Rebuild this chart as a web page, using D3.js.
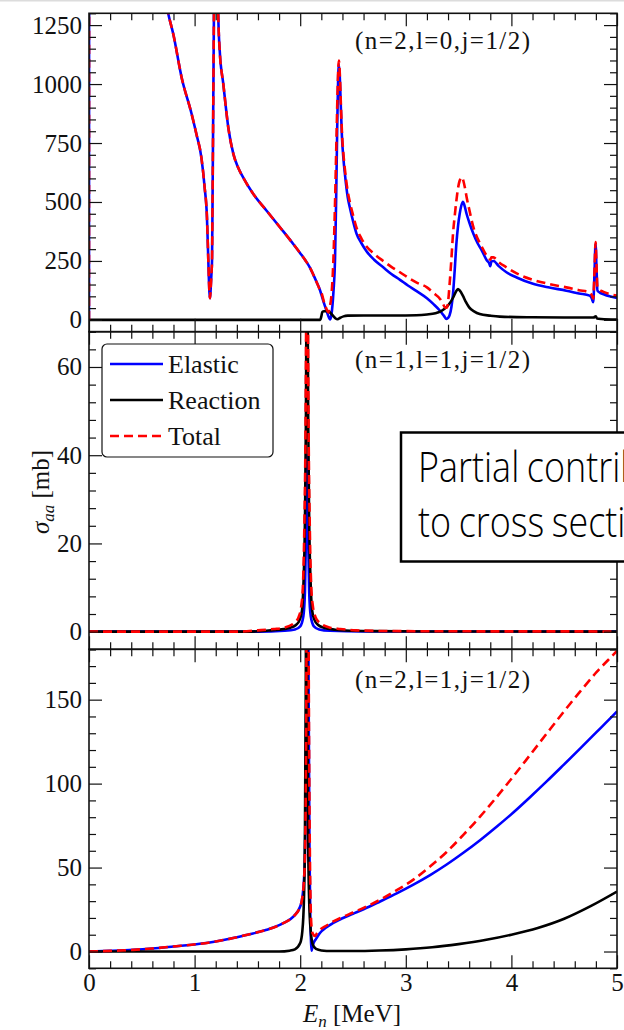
<!DOCTYPE html>
<html>
<head>
<meta charset="utf-8">
<script src="https://cdn.jsdelivr.net/npm/d3@7"></script>
<style>
  html, body { margin: 0; padding: 0; background: #fff; }
  svg { display: block; }
</style>
</head>
<body>
<svg id="chart" width="624" height="1030"></svg>
<script>
// ---------------------------------------------------------------
// Partial-wave cross sections sigma_aa [mb] versus neutron energy E_n [MeV]
// Each series is a list of [E_n, sigma] samples.
// ---------------------------------------------------------------

// x axis
const xTicks = [0, 1, 2, 3, 4, 5];
const xTickLabels = ["0", "1", "2", "3", "4", "5"];

// panel labels
const panelLabels = ["(n=2,l=0,j=1/2)", "(n=1,l=1,j=1/2)", "(n=2,l=1,j=1/2)"];
const seriesNames = ["Elastic", "Reaction", "Total"];

// y ticks per panel
const yTicksA = [0, 250, 500, 750, 1000, 1250];
const yTicksB = [0, 20, 40, 60];
const yTicksC = [0, 50, 100, 150];

// ---- (n=2,l=0,j=1/2) ----
const n2l0Low = [
  [0, 0], [0.004, 6000], [0.3, 3000], [0.6, 1700], [0.751, 1297], [0.798, 1212],
  [0.877, 1028], [0.972, 873], [1.017, 788], [1.064, 689], [1.095, 562], [1.117, 435],
  [1.13, 251], [1.14, 120], [1.146, 92], [1.152, 130], [1.16, 200], [1.165, 251],
  [1.17, 506], [1.177, 930], [1.183, 1297], [1.19, 1800], [1.2, 2500], [1.212, 1800],
  [1.224, 1297], [1.238, 1141], [1.272, 1000], [1.319, 816], [1.367, 704], [1.41, 648],
  [1.462, 602], [1.556, 534], [1.682, 463], [1.808, 393], [1.934, 322], [2.0, 283],
  [2.05, 252], [2.093, 221], [2.124, 192], [2.156, 160], [2.186, 128]
];
const n2l0Elastic = n2l0Low.concat([
  [2.219, 80], [2.25, 38], [2.27, 12], [2.282, 2], [2.295, 20], [2.315, 120], [2.33, 260],
  [2.34, 500], [2.35, 800], [2.36, 1040], [2.366, 1085], [2.375, 1030], [2.385, 900],
  [2.395, 780], [2.41, 680], [2.423, 620], [2.45, 520], [2.47, 477], [2.5, 420],
  [2.534, 365], [2.58, 325], [2.628, 291], [2.7, 255], [2.786, 223], [2.86, 196],
  [2.945, 170], [3.02, 146], [3.103, 122], [3.2, 92], [3.26, 68], [3.324, 39], [3.36, 18],
  [3.386, 4], [3.4, 8], [3.415, 20], [3.432, 55], [3.447, 110], [3.463, 210], [3.479, 322],
  [3.495, 400], [3.51, 449], [3.526, 485], [3.542, 501], [3.556, 485], [3.576, 449],
  [3.6, 415], [3.64, 365], [3.68, 325], [3.72, 294], [3.765, 254], [3.79, 240], [3.8, 228],
  [3.81, 248], [3.83, 250], [3.88, 228], [3.953, 202], [4.05, 180], [4.205, 153],
  [4.36, 137], [4.52, 124], [4.64, 112], [4.74, 103], [4.76, 92], [4.775, 75], [4.787, 200],
  [4.797, 322], [4.806, 220], [4.815, 124], [4.84, 115], [4.867, 110], [4.93, 100], [5.0, 93]
]);
const n2l0Reaction = [
  [0, 0], [2.19, 0], [2.2, 15], [2.21, 34], [2.225, 37], [2.265, 37], [2.285, 30], [2.31, 18],
  [2.335, 6], [2.355, 3], [2.375, 8], [2.41, 15], [2.45, 18], [2.6, 19], [2.9, 19], [3.1, 20],
  [3.2, 23], [3.28, 28], [3.33, 36], [3.37, 48], [3.4, 61], [3.45, 96], [3.475, 120],
  [3.494, 131], [3.51, 125], [3.54, 103], [3.57, 75], [3.6, 53], [3.65, 35], [3.7, 25],
  [3.8, 18], [3.89, 14], [4.2, 11], [4.5, 10], [4.78, 10], [4.79, 14], [4.8, 15], [4.81, 6],
  [4.85, 4], [5.0, 2]
];
const n2l0Total = n2l0Low.concat([
  [2.2, 117], [2.23, 68], [2.25, 45], [2.266, 32], [2.28, 55], [2.297, 110], [2.314, 251],
  [2.33, 500], [2.345, 800], [2.36, 1060], [2.366, 1100], [2.375, 1045], [2.385, 920],
  [2.395, 800], [2.41, 700], [2.423, 640], [2.45, 545], [2.47, 500], [2.5, 445],
  [2.534, 390], [2.58, 345], [2.628, 311], [2.7, 280], [2.786, 250], [2.86, 226],
  [2.945, 202], [3.02, 180], [3.103, 158], [3.2, 138], [3.26, 115], [3.324, 89], [3.35, 70],
  [3.371, 53], [3.39, 52], [3.4, 75], [3.415, 153], [3.432, 260], [3.447, 365], [3.463, 440],
  [3.479, 506], [3.495, 560], [3.51, 590], [3.532, 605], [3.545, 590], [3.56, 560],
  [3.576, 520], [3.6, 470], [3.64, 393], [3.68, 345], [3.72, 310], [3.765, 273], [3.79, 262],
  [3.8, 255], [3.81, 265], [3.83, 265], [3.88, 245], [3.953, 223], [4.05, 197], [4.205, 170],
  [4.36, 152], [4.52, 138], [4.64, 126], [4.74, 117], [4.76, 106], [4.775, 90], [4.787, 210],
  [4.797, 330], [4.806, 230], [4.815, 136], [4.84, 126], [4.867, 120], [4.93, 110], [5.0, 103]
]);

// ---- (n=1,l=1,j=1/2) ----
const n1l1Elastic = [
  [0, 0], [1.6, 0], [1.85, 0.2], [1.95, 0.5], [2.0, 1.2], [2.03, 3.5], [2.045, 9], [2.055, 22],
  [2.065, 40], [2.075, 22], [2.085, 9], [2.1, 3.5], [2.13, 1.2], [2.18, 0.5], [2.28, 0.2],
  [2.6, 0.05], [5, 0]
];
const n1l1Reaction = [
  [0, 0], [1.5, 0], [1.7, 0.25], [1.8, 0.45], [1.905, 0.9], [1.96, 1.5], [1.997, 2.8],
  [2.018, 5], [2.03, 10.3], [2.045, 25.5], [2.054, 48], [2.059, 75], [2.065, 110],
  [2.071, 75], [2.076, 48], [2.085, 25.5], [2.1, 10.3], [2.112, 5], [2.133, 2.8], [2.17, 1.5],
  [2.225, 0.9], [2.33, 0.45], [2.43, 0.25], [2.7, 0.12], [3.2, 0.05], [5, 0]
];
const n1l1Total = [
  [0, 0], [1.4, 0], [1.6, 0.3], [1.75, 0.6], [1.845, 0.9], [1.945, 2.0], [1.985, 3.3],
  [2.01, 5.8], [2.025, 10], [2.04, 25], [2.051, 48], [2.057, 75], [2.065, 130], [2.073, 75],
  [2.079, 48], [2.09, 25], [2.105, 10], [2.12, 5.8], [2.145, 3.3], [2.185, 2.0], [2.285, 0.9],
  [2.38, 0.6], [2.53, 0.3], [2.8, 0.15], [3.5, 0.08], [5, 0.05]
];

// ---- (n=2,l=1,j=1/2) ----
const n2l1Low = [
  [0, 0], [0.2, 0.4], [0.42, 1], [0.6, 1.8], [0.8, 3], [1.05, 4.6], [1.2, 6], [1.366, 8],
  [1.5, 10], [1.682, 12.9], [1.84, 16.9], [1.935, 20.8], [2.0, 26.8], [2.02, 32], [2.035, 42],
  [2.045, 56.6], [2.052, 90], [2.058, 150], [2.064, 300]
];
const n2l1Elastic = n2l1Low.concat([
  [2.072, 300], [2.08, 150], [2.088, 60], [2.096, 20], [2.103, 5], [2.108, 0.5], [2.116, 3],
  [2.13, 5.5], [2.15, 7.5], [2.187, 11], [2.25, 14.5], [2.314, 17], [2.4, 19.8], [2.5, 22.5],
  [2.6, 25.2], [2.756, 29.8], [2.914, 34.6], [3.072, 39.8], [3.23, 45.5], [3.387, 51.8],
  [3.545, 58.8], [3.703, 66.3], [3.86, 74.3], [4.018, 82.8], [4.176, 91.9], [4.334, 101.3],
  [4.492, 111], [4.65, 120.8], [4.808, 130.8], [4.966, 140.8], [5, 143]
]);
const n2l1Reaction = [
  [0, 0], [1.8, 0], [1.9, 0.5], [1.95, 1.3], [2.0, 5], [2.02, 12], [2.035, 30], [2.045, 70],
  [2.053, 160], [2.06, 320], [2.067, 160], [2.075, 70], [2.085, 30], [2.1, 12], [2.12, 4],
  [2.15, 1.5], [2.2, 0.6], [2.3, 0.3], [2.5, 0.3], [2.75, 0.6], [3.0, 1.3], [3.25, 2.5],
  [3.5, 4.4], [3.75, 6.8], [4.0, 10], [4.25, 14], [4.5, 19.5], [4.75, 27], [5, 35.7]
];
const n2l1Total = n2l1Low.concat([
  [2.072, 320], [2.082, 150], [2.09, 70], [2.098, 30], [2.107, 15], [2.12, 10.5], [2.14, 9.3],
  [2.16, 11], [2.187, 12.9], [2.25, 15.5], [2.314, 17.9], [2.4, 20.5], [2.5, 23.2],
  [2.6, 26], [2.756, 30.8], [2.914, 36.5], [3.072, 42.8], [3.23, 50.7], [3.387, 59.3],
  [3.545, 69.5], [3.703, 80.3], [3.86, 92], [4.018, 104.3], [4.176, 117], [4.334, 129.8],
  [4.492, 142.5], [4.65, 154.8], [4.808, 166.5], [4.966, 176.8], [5, 179]
]);

// ---------------------------------------------------------------
const svg = d3.select("#chart");
const SERIF = "'Liberation Serif', 'DejaVu Serif', serif";
const INK = "#111";
const colors = { Elastic: "#0000ff", Reaction: "#000000", Total: "#ff0000" };

const left = 89, right = 617;
const x = d3.scaleLinear().domain([0, 5]).range([left, right]);

const panels = [
  { top: 13.3, bottom: 331.7, domain: [-50, 1300], major: yTicksA, minorStep: 50,
    label: panelLabels[0], labelY: 49,
    series: [n2l0Elastic, n2l0Reaction, n2l0Total], xLabels: false },
  { top: 331.7, bottom: 649.3, domain: [-4, 68], major: yTicksB, minorStep: 4,
    label: panelLabels[1], labelY: 368,
    series: [n1l1Elastic, n1l1Reaction, n1l1Total], xLabels: false },
  { top: 649.3, bottom: 968.3, domain: [-10, 180], major: yTicksC, minorStep: 10,
    label: panelLabels[2], labelY: 688,
    series: [n2l1Elastic, n2l1Reaction, n2l1Total], xLabels: true }
];

// faint rule along the top edge of the page
svg.append("rect").attr("x", 0).attr("y", 0).attr("width", 624).attr("height", 1.5)
  .attr("fill", "#dcdcdc");

const xMinor = d3.range(0, 5.0001, 0.2).map(v => +v.toFixed(1)).filter(v => !xTicks.includes(v));

function styleAxis(g) {
  g.select(".domain").remove();
  g.selectAll(".tick line").attr("stroke", INK).attr("stroke-width", 1.2);
  g.selectAll(".tick text").attr("fill", INK).attr("font-family", SERIF).attr("font-size", 25);
}

panels.forEach((p, i) => {
  const y = d3.scaleLinear().domain(p.domain).range([p.bottom, p.top]);
  const yMinor = d3.range(p.domain[0], p.domain[1] + 1e-9, p.minorStep)
    .filter(v => !p.major.includes(v));
  const g = svg.append("g");

  const clipId = "clip" + i;
  svg.append("clipPath").attr("id", clipId).append("rect")
    .attr("x", left).attr("y", p.top).attr("width", right - left).attr("height", p.bottom - p.top);

  // curves: elastic, reaction, then dashed total on top
  const line = d3.line().x(d => x(d[0])).y(d => y(d[1])).curve(d3.curveMonotoneX);
  const lines = g.append("g").attr("clip-path", `url(#${clipId})`);
  p.series.forEach((data, k) => {
    const name = seriesNames[k];
    lines.append("path").datum(data)
      .attr("d", line)
      .attr("fill", "none")
      .attr("stroke", colors[name])
      .attr("stroke-width", 2.6)
      .attr("stroke-linejoin", "round")
      .attr("stroke-dasharray", name === "Total" ? "9,5" : null);
  });

  // y axes, left and right, ticks pointing inward
  g.append("g").attr("transform", `translate(${left},0)`)
    .call(d3.axisLeft(y).tickValues(p.major).tickSizeInner(-13).tickSizeOuter(0).tickPadding(7)
      .tickFormat(d3.format("d")))
    .call(styleAxis);
  g.append("g").attr("transform", `translate(${left},0)`)
    .call(d3.axisLeft(y).tickValues(yMinor).tickSizeInner(-7).tickSizeOuter(0).tickFormat(""))
    .call(styleAxis);
  g.append("g").attr("transform", `translate(${right},0)`)
    .call(d3.axisRight(y).tickValues(p.major).tickSizeInner(-13).tickSizeOuter(0).tickFormat(""))
    .call(styleAxis);
  g.append("g").attr("transform", `translate(${right},0)`)
    .call(d3.axisRight(y).tickValues(yMinor).tickSizeInner(-7).tickSizeOuter(0).tickFormat(""))
    .call(styleAxis);

  // x axes, top and bottom
  g.append("g").attr("transform", `translate(0,${p.top})`)
    .call(d3.axisTop(x).tickValues(xTicks).tickSizeInner(-13).tickSizeOuter(0).tickFormat(""))
    .call(styleAxis);
  g.append("g").attr("transform", `translate(0,${p.top})`)
    .call(d3.axisTop(x).tickValues(xMinor).tickSizeInner(-7).tickSizeOuter(0).tickFormat(""))
    .call(styleAxis);
  g.append("g").attr("transform", `translate(0,${p.bottom})`)
    .call(d3.axisBottom(x).tickValues(xTicks).tickSizeInner(-13).tickSizeOuter(0).tickPadding(5)
      .tickFormat((d, j) => p.xLabels ? xTickLabels[j] : ""))
    .call(styleAxis);
  g.append("g").attr("transform", `translate(0,${p.bottom})`)
    .call(d3.axisBottom(x).tickValues(xMinor).tickSizeInner(-7).tickSizeOuter(0).tickFormat(""))
    .call(styleAxis);

  // frame
  g.append("rect").attr("x", left).attr("y", p.top)
    .attr("width", right - left).attr("height", p.bottom - p.top)
    .attr("fill", "none").attr("stroke", INK).attr("stroke-width", 1.6);

  // quantum-number label
  g.append("text").attr("x", 442.5).attr("y", p.labelY)
    .attr("text-anchor", "middle").attr("font-family", SERIF).attr("font-size", 25)
    .attr("textLength", 175).attr("lengthAdjust", "spacing").attr("fill", INK)
    .text(p.label);
});

// legend in the middle panel
const legend = svg.append("g");
legend.append("rect").attr("x", 102).attr("y", 344).attr("width", 171).attr("height", 113)
  .attr("rx", 5).attr("fill", "#fff").attr("stroke", INK).attr("stroke-width", 1.2);
seriesNames.forEach((name, k) => {
  const ly = 364 + k * 36;
  legend.append("line").attr("x1", 110).attr("x2", 163).attr("y1", ly).attr("y2", ly)
    .attr("stroke", colors[name]).attr("stroke-width", 2.6)
    .attr("stroke-dasharray", name === "Total" ? "9,5" : null);
  legend.append("text").attr("x", 168).attr("y", ly).attr("dy", "0.34em")
    .attr("font-family", SERIF).attr("font-size", 26).attr("fill", INK).text(name);
});

// boxed caption
const caption = svg.append("g");
caption.append("rect").attr("x", 401).attr("y", 432.5).attr("width", 260).attr("height", 129)
  .attr("fill", "#fff").attr("stroke", "#000").attr("stroke-width", 2.5);
["Partial contributions", "to cross sections"].forEach((t, k) => {
  caption.append("text")
    .attr("transform", `translate(418,${482 + k * 55}) scale(0.855,1)`)
    .attr("font-family", "'Open Sans', 'Noto Sans', sans-serif").attr("font-size", 42)
    .attr("font-weight", 300).attr("word-spacing", -2)
    .attr("fill", "#000").text(t);
});

// axis titles
const yTitle = svg.append("text")
  .attr("transform", "translate(49,492) rotate(-90)")
  .attr("text-anchor", "middle").attr("font-family", SERIF).attr("font-size", 25).attr("fill", INK);
yTitle.append("tspan").attr("font-style", "italic").text("σ");
yTitle.append("tspan").attr("font-style", "italic").attr("font-size", 17).attr("dy", 5).text("aa");
yTitle.append("tspan").attr("dy", -5).text(" [mb]");

const xTitle = svg.append("text")
  .attr("x", 352).attr("y", 1022)
  .attr("text-anchor", "middle").attr("font-family", SERIF).attr("font-size", 25).attr("fill", INK);
xTitle.append("tspan").attr("font-style", "italic").text("E");
xTitle.append("tspan").attr("font-style", "italic").attr("font-size", 17).attr("dy", 5).text("n");
xTitle.append("tspan").attr("dy", -5).text(" [MeV]");
</script>
</body>
</html>
